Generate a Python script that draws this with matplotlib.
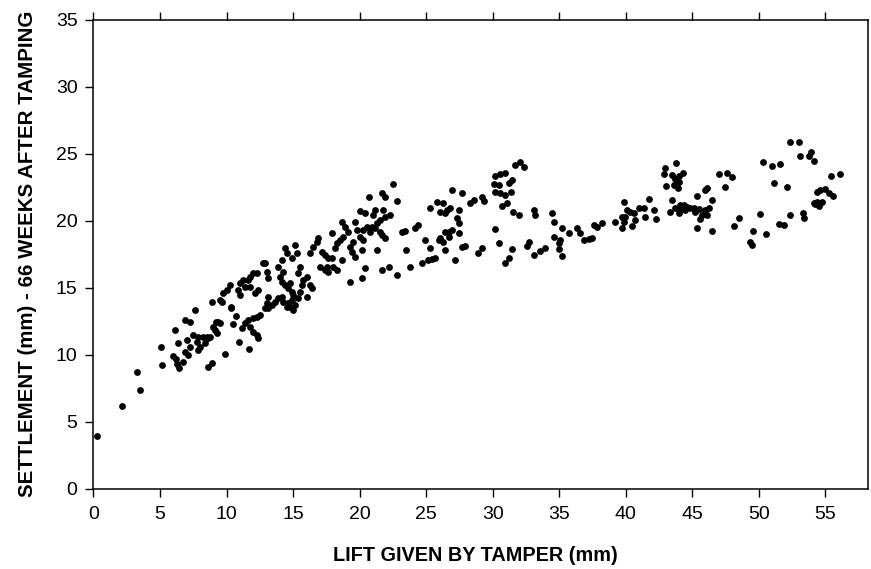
import matplotlib
matplotlib.use('Agg')
import matplotlib.pyplot as plt
import numpy as np

# lift given by tamper (mm) / settlement 66 weeks after (mm)
lift_a = [0.24, 2.15, 3.5, 3.3, 5.15, 5.05, 6.15, 6.38, 6.0, 6.2, 6.3, 6.45,
          6.9, 7.25, 7.6, 7.0, 7.5, 7.88, 8.26, 8.63, 7.26, 6.88, 7.13, 7.76,
          8.0, 8.38, 7.88, 6.75, 8.63, 8.89, 9.89, 9.19, 9.51, 9.14, 9.26, 9.0,
          8.89, 9.5, 9.64, 10.3, 10.7, 10.5, 10.9, 10.26, 10.05, 9.76, 10.34,
          9.38, 8.76, 8.51, 11.71]
sett_a = [3.96, 6.17, 7.39, 8.73, 9.28, 10.6, 11.84, 10.92, 9.9, 9.7, 9.3, 9.0,
          12.6, 12.46, 13.36, 11.1, 11.5, 11.37, 11.32, 11.25, 10.62, 10.25, 10.0, 11.0,
          10.62, 10.87, 10.37, 9.5, 9.13, 9.38, 10.05, 12.49, 12.37, 11.9, 11.62, 12.11,
          13.98, 14.1, 13.98, 13.56, 12.91, 12.31, 11.0, 15.22, 14.85, 14.6, 13.48,
          12.49, 11.37, 11.37, 10.45]

lift_b = [11.14, 11.39, 11.64, 12.02, 12.27, 12.52, 11.77, 12.02, 12.27, 12.39,
          11.01, 10.89, 11.01, 11.26, 11.64, 11.77, 12.02, 12.27, 11.39, 11.77,
          12.9, 13.02, 13.14, 12.14, 12.39, 13.14, 13.02, 12.9,
          14.02, 14.15, 14.4, 14.58, 14.77, 14.9, 15.02, 14.9, 14.65, 14.52, 14.27,
          14.15, 13.9, 13.65, 13.4, 13.14, 14.77, 15.15, 15.4, 15.53, 15.65, 15.78,
          16.03, 16.28, 16.4, 16.03, 15.53, 15.4, 12.77, 13.9, 14.15, 14.4, 14.52,
          15.15, 15.28, 14.9, 17.03, 17.41, 17.65, 14.27, 15.02]
sett_b = [11.99, 12.37, 12.61, 12.74, 12.86, 12.99, 12.11, 11.74, 11.49, 11.25,
          15.35, 14.85, 14.48, 15.6, 15.6, 15.84, 16.1, 16.1, 15.1, 15.1,
          16.84, 16.22, 15.72, 14.6, 14.85, 14.35, 13.86, 13.48,
          15.84, 15.47, 15.22, 14.97, 15.35, 14.72, 14.48, 14.1, 13.86, 13.6, 13.98,
          14.35, 14.23, 13.98, 13.73, 13.48, 13.6, 13.73, 14.23, 14.72, 15.22, 15.6,
          15.84, 15.22, 14.97, 14.35, 16.59, 16.1, 16.84, 16.59, 17.09, 17.96, 17.59,
          18.21, 17.59, 17.22, 16.59, 16.34, 16.22, 16.22, 13.36]

lift_c = [16.28, 16.53, 16.78, 16.9, 17.16, 17.41, 17.65, 17.53,
          18.66, 18.91, 19.16, 18.78, 18.53, 18.29, 18.16, 17.91, 19.66, 19.79,
          19.53, 19.29, 20.04, 20.29, 19.41, 19.66, 20.17, 18.66, 17.91, 18.03,
          18.29, 20.41, 19.29, 20.17, 21.29, 21.67, 22.17, 22.8,
          22.54, 20.74, 21.67, 21.92, 22.84, 20.04, 20.41, 21.17, 21.04, 21.79,
          21.92, 22.29, 21.54, 21.29, 20.92, 20.54, 20.29, 20.79, 21.54, 21.67,
          21.92, 21.17, 23.17, 23.42, 24.17, 24.42, 23.5, 23.8, 24.67, 24.92,
          25.17, 25.43, 25.68]
sett_c = [17.59, 18.08, 18.46, 18.71, 17.71, 17.46, 17.22, 16.59,
          19.95, 19.57, 19.2, 18.83, 18.58, 18.34, 17.96, 19.08, 19.95, 19.33,
          18.46, 18.08, 18.83, 18.58, 17.71, 17.34, 17.84, 17.09, 17.22, 16.59,
          16.34, 16.47, 15.47, 15.72, 17.84, 16.34, 16.59, 15.97,
          22.76, 21.77, 22.11, 21.81, 21.51, 20.77, 20.57, 20.82, 20.45, 20.82,
          20.32, 20.45, 20.07, 19.83, 19.57, 19.57, 19.33, 19.2, 19.2, 18.96,
          18.71, 19.46, 19.2, 19.28, 19.46, 19.7, 17.84, 16.59, 16.84, 18.58,
          17.09, 17.14, 17.22]

lift_d = [25.3, 25.8, 26.05, 26.43, 26.3, 26.56, 26.8, 26.93, 27.43, 27.68,
          27.31, 27.43, 26.93, 26.68, 26.43, 26.05, 26.3, 26.68, 27.43, 27.68,
          27.93, 27.18, 26.43, 25.93, 28.31, 28.56, 28.87, 25.3, 29.19]
sett_d = [20.95, 21.44, 20.69, 20.57, 21.32, 20.82, 20.95, 22.31, 20.82, 22.11,
          20.2, 19.83, 19.33, 19.2, 19.2, 18.71, 18.46, 18.83, 19.08, 18.08,
          18.13, 17.09, 17.84, 18.58, 21.32, 21.57, 17.63, 17.96, 17.96]

lift_e = [31.69, 32.07, 32.32, 30.19, 30.56, 30.94, 30.06, 30.44, 31.19, 31.44,
          30.19, 30.56, 30.94, 31.37, 29.19, 29.36, 30.69, 31.07, 31.56, 31.94,
          33.07, 33.2, 34.45, 34.57, 35.2, 35.7, 36.33, 36.58, 36.83, 37.2,
          37.58, 37.83, 38.21, 34.57, 35.08, 34.95, 34.95, 35.2, 30.19, 30.44,
          31.44, 31.19, 30.94, 32.69, 32.57, 33.07, 33.57, 33.95, 37.46]
sett_e = [24.18, 24.43, 24.05, 23.36, 23.51, 23.6, 22.76, 22.69, 22.81, 23.06,
          22.19, 22.07, 21.94, 22.19, 21.81, 21.51, 21.12, 21.32, 20.69, 20.45,
          20.82, 20.45, 20.57, 19.95, 19.46, 19.08, 19.46, 19.08, 18.58, 18.63,
          19.7, 19.57, 19.87, 18.83, 18.58, 18.34, 17.89, 17.39, 19.38, 18.38,
          17.89, 17.22, 16.84, 18.46, 18.13, 17.46, 17.78, 17.96, 18.71]

lift_f = [39.21, 39.71, 39.83, 39.71, 40.09, 39.96, 40.34, 40.59, 40.47, 40.71,
          40.96, 41.34, 41.47, 41.71, 42.09, 42.29, 39.83,
          42.97, 43.8, 42.84, 43.47, 43.97, 44.3, 43.72, 43.97, 43.05, 43.59, 43.89,
          43.47, 43.35, 43.72, 44.1, 44.35, 44.6, 44.1, 43.97, 44.47, 44.85, 45.1,
          45.23, 45.47, 45.73, 45.6, 45.98, 46.23, 46.11, 46.48, 45.35, 46.11,
          45.98, 45.35, 46.48, 48.1, 48.48, 46.98, 47.61, 47.98, 47.48]
sett_f = [19.95, 19.46, 19.95, 20.32, 20.82, 20.32, 20.69, 20.57, 19.63, 20.07,
          20.95, 20.95, 20.32, 21.64, 20.82, 20.13, 21.44,
          23.93, 24.31, 23.49, 23.43, 23.36, 23.6, 23.11, 22.93, 22.63, 22.69, 22.44,
          21.57, 20.69, 20.95, 21.19, 21.19, 21.02, 20.82, 20.57, 20.82, 20.95, 20.95,
          20.69, 20.87, 20.45, 20.15, 20.82, 20.95, 20.45, 21.57, 21.87, 22.44,
          22.31, 19.46, 19.25, 19.63, 20.2, 23.51, 23.56, 23.31, 22.51]

lift_g = [52.37, 52.99, 53.07, 53.74, 53.92, 54.12, 50.29, 50.99, 51.62, 51.11,
          52.12, 55.38, 56.08, 54.38, 54.62, 55.0, 55.25, 55.55, 54.12, 54.38,
          54.62, 54.75, 54.5, 54.25, 49.53, 49.31, 49.49, 50.06, 50.56, 51.49,
          51.86, 52.32, 53.32, 53.42]
sett_g = [25.87, 25.87, 24.87, 24.85, 25.13, 24.48, 24.38, 24.13, 24.28, 22.81,
          22.56, 23.38, 23.51, 22.19, 22.31, 22.37, 22.07, 21.87, 21.32, 21.44,
          21.32, 21.44, 21.12, 21.27, 19.28, 18.46, 18.21, 20.52, 19.01, 19.78,
          19.7, 20.47, 20.57, 20.2]

lift = np.concatenate([lift_a, lift_b, lift_c, lift_d, lift_e, lift_f, lift_g])
settlement = np.concatenate([sett_a, sett_b, sett_c, sett_d, sett_e, sett_f, sett_g])

x_ticks = np.arange(0, 60, 5)
y_ticks = np.arange(0, 40, 5)

plt.rcParams['font.family'] = ['Liberation Sans', 'DejaVu Sans']

fig = plt.figure(figsize=(8.71, 5.69), dpi=100)
ax = fig.add_axes([0.1073, 0.1406, 0.8893, 0.8243])

ax.scatter(lift, settlement, s=24, color='black', linewidths=0, zorder=3)

ax.set_xlim(0, 58.2)
ax.set_ylim(0, 35)
ax.set_xticks(x_ticks)
ax.set_yticks(y_ticks)
ax.tick_params(axis='both', direction='out', length=6, width=1, labelsize=14, color='black')
ax.tick_params(axis='x', top=True, labeltop=False, pad=6.5)
ax.tick_params(axis='y', pad=5.5)
for sp in ax.spines.values():
    sp.set_linewidth(1.1)

ax.set_xlabel('LIFT GIVEN BY TAMPER (mm)', fontsize=14.3, fontweight='bold')
ax.set_ylabel('SETTLEMENT (mm) - 66 WEEKS AFTER TAMPING', fontsize=14.8, fontweight='bold')
ax.xaxis.set_label_coords(0.4926, -0.1215)
ax.yaxis.set_label_coords(-0.073, 0.502)

fig.savefig('out.png', dpi=100)
